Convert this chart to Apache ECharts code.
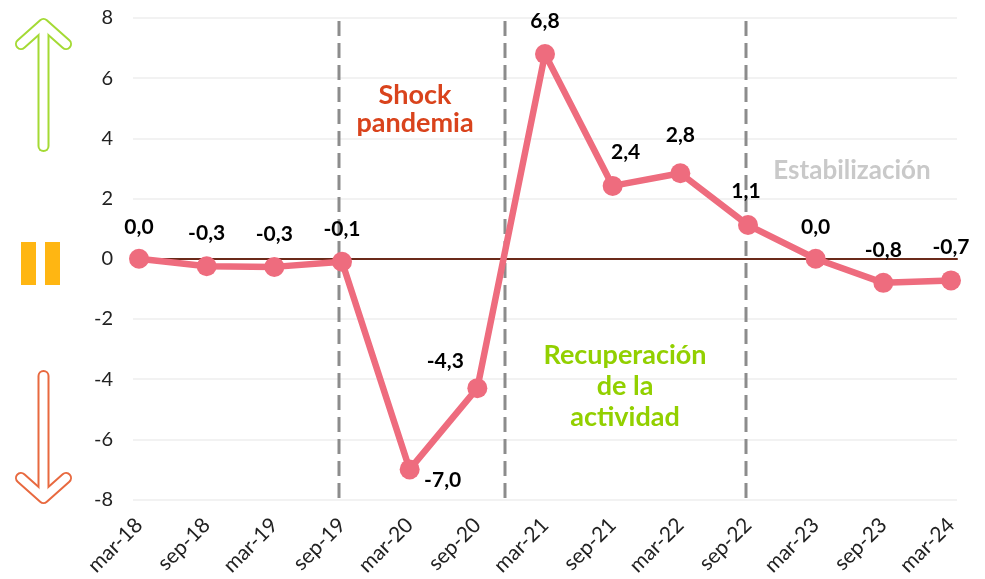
<!DOCTYPE html>
<html><head><meta charset="utf-8">
<style>html,body{margin:0;padding:0;background:#fff}#c{width:985px;height:579px}</style>
<script src="https://cdn.jsdelivr.net/npm/echarts@6/dist/echarts.min.js"></script>
</head><body><div id="c"></div>
<script>
const categories = ['mar-18','sep-18','mar-19','sep-19','mar-20','sep-20','mar-21','sep-21','mar-22','sep-22','mar-23','sep-23','mar-24'];
const values = [0.0,-0.25,-0.27,-0.1,-7.0,-4.3,6.8,2.42,2.84,1.12,0.0,-0.8,-0.72];
const labelOffsets = [[0,-32],[0,-33],[0,-33],[0,-33],[33,11],[-32,-27],[0,-33],[13,-34],[0,-38],[-2,-34],[0,-32],[0,-33],[0,-33]];
const yMin = -8, yMax = 8, yStep = 2;
const FONT = 'Lato';
const GREEN = '#A4DA34', ORANGE = '#E8693F', WHITE = '#fff';

const chart = echarts.init(document.getElementById('c'), null, {renderer:'canvas'});

function arrow(shaft, chevron, color){
  const mk = (pts, w, c, z) => ({type:'polyline', silent:true, z,
    shape:{points:pts}, style:{stroke:c, lineWidth:w, fill:null, lineCap:'round', lineJoin:'round'}});
  return [mk(shaft,12,color,1), mk(chevron,12,color,1), mk(shaft,8,WHITE,2), mk(chevron,8,WHITE,2)];
}
function vdash(x){
  return {type:'line', silent:true, z:3, shape:{x1:x,y1:21,x2:x,y2:499},
    style:{stroke:'#8C8C8C', lineWidth:3, lineDash:[15,7]}};
}
function note(text, x, y, color, size, lh){
  return {type:'text', silent:true, z:4, x, y,
    style:{text, fill:color, font:`bold ${size}px ${FONT}`, align:'center', verticalAlign:'middle', lineHeight:lh}};
}

chart.setOption({
  animation:false,
  backgroundColor:'#fff',
  grid:[
    {left:133, right:28, top:18, height:481.5},
    {left:139, right:34, top:18, height:481.5}
  ],
  xAxis:[
    {gridIndex:0, type:'category', data:categories, axisLine:{onZero:true, lineStyle:{color:'#6B2A1A', width:2}},
     axisTick:{show:false}, axisLabel:{show:false}, splitLine:{show:false}},
    {gridIndex:1, type:'category', data:categories, boundaryGap:false,
     axisLine:{show:false}, axisTick:{show:false}, splitLine:{show:false},
     axisLabel:{show:true, rotate:45, interval:0, margin:22, color:'#222', fontFamily:FONT, fontSize:21, hideOverlap:false}}
  ],
  yAxis:[
    {gridIndex:0, type:'value', min:yMin, max:yMax, interval:yStep,
     axisLine:{show:false}, axisTick:{show:false},
     axisLabel:{margin:20, color:'#222', fontFamily:FONT, fontSize:20},
     splitLine:{lineStyle:{color:'#F2F2F2', width:2}}},
    {gridIndex:1, type:'value', min:yMin, max:yMax, interval:yStep, show:false}
  ],
  series:[{
    type:'line', xAxisIndex:1, yAxisIndex:1, z:5,
    data:values.map((v,i)=>({value:v, label:{offset:labelOffsets[i]}})),
    symbol:'circle', symbolSize:20,
    lineStyle:{color:'#EE6C7E', width:6.5}, itemStyle:{color:'#EE6C7E'},
    label:{show:true, position:'inside', color:'#000', fontFamily:FONT, fontWeight:'bold', fontSize:21,
      formatter:p=>p.value.toFixed(1).replace('.',',')}
  }],
  graphic:[
    ...arrow([[43.5,146],[43.5,26]], [[21,44],[43.5,24],[66,44]], GREEN),
    ...arrow([[43.5,376],[43.5,496]], [[21,478],[43.5,498],[66,478]], ORANGE),
    {type:'rect', silent:true, shape:{x:21,y:242,width:15,height:43}, style:{fill:'#FFB612'}},
    {type:'rect', silent:true, shape:{x:45,y:242,width:15,height:43}, style:{fill:'#FFB612'}},
    vdash(339), vdash(505), vdash(746),
    note('Shock\npandemia', 415, 109, '#D9431C', 27, 28),
    note('Recuperación\nde la\nactividad', 625, 386, '#92D000', 27, 31),
    note('Estabilización', 852, 171, '#C9C9C9', 26, 30)
  ]
});
</script></body></html>
